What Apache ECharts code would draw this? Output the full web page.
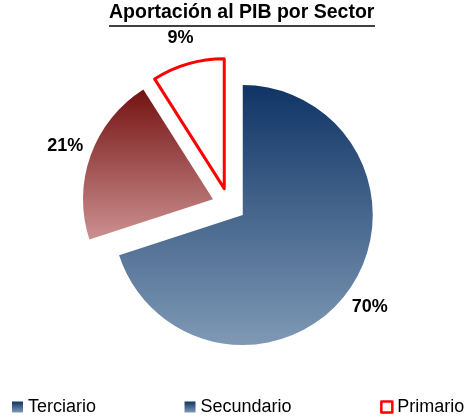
<!DOCTYPE html>
<html>
<head>
<meta charset="utf-8">
<script src="https://cdn.jsdelivr.net/npm/echarts@6/dist/echarts.min.js"></script>
<style>
html, body { margin: 0; padding: 0; background: #fff; }
#chart { width: 465px; height: 419px; }
</style>
</head>
<body>
<div id="chart"></div>
<script>
var sectores = ['Terciario', 'Secundario', 'Primario'];
var aportacion = [70, 21, 9];

var azul = new echarts.graphic.LinearGradient(0, 0, 0, 1, [
	{ offset: 0, color: '#0f3465' },
	{ offset: 1, color: '#7f99b5' }
]);
var rojo = new echarts.graphic.LinearGradient(0, 0, 0, 1, [
	{ offset: 0, color: '#741212' },
	{ offset: 1, color: '#cc9090' }
]);
var estilos = [
	{ color: azul },
	{ color: rojo },
	{ color: '#ffffff', borderColor: '#ff0000', borderWidth: 3 }
];

var datos = [];
var etiquetas = [];
for (var i = 0; i < sectores.length; i++) {
	datos.push({ name: sectores[i], value: aportacion[i], selected: true, itemStyle: estilos[i] });
	etiquetas.push({ name: sectores[i], value: aportacion[i], selected: true });
}

var myChart = echarts.init(document.getElementById('chart'));
var option = {
	animation: false,
	title: {
		text: 'Aportación al PIB por Sector',
		left: 109,
		top: 3,
		padding: 0,
		textStyle: { fontFamily: 'Liberation Sans', fontSize: 19.5, fontWeight: 'bold', color: '#000' }
	},
	graphic: [{
		type: 'line',
		shape: { x1: 109, y1: 26, x2: 375, y2: 26 },
		style: { stroke: '#000', lineWidth: 1.5 }
	}],
	legend: {
		left: 12,
		top: 398,
		width: 600,
		padding: 0,
		itemWidth: 11,
		itemHeight: 11,
		itemGap: 88.5,
		textStyle: { fontFamily: 'Liberation Sans', fontSize: 18, color: '#000' },
		data: [
			{ name: 'Terciario', icon: 'rect', itemStyle: { color: azul } },
			{ name: 'Secundario', icon: 'rect', itemStyle: { color: azul } },
			{ name: 'Primario', icon: 'rect', itemStyle: { color: '#fff', borderColor: '#ff0000', borderWidth: 2.5 } }
		]
	},
	series: [{
		name: 'Aportación',
		type: 'pie',
		center: [229, 205],
		radius: 130,
		startAngle: 90,
		clockwise: true,
		selectedMode: 'multiple',
		selectedOffset: 17,
		silent: true,
		label: { show: false },
		labelLine: { show: false },
		data: datos
	}, {
		name: 'Etiquetas',
		type: 'pie',
		center: [229, 205],
		radius: [138, 170],
		startAngle: 90,
		clockwise: true,
		selectedMode: 'multiple',
		selectedOffset: 17,
		silent: true,
		itemStyle: { color: 'rgba(0,0,0,0)' },
		label: {
			show: true,
			position: 'inside',
			formatter: '{d}%',
			fontFamily: 'Liberation Sans',
			fontSize: 18,
			fontWeight: 'bold',
			color: '#000'
		},
		labelLine: { show: false },
		data: etiquetas
	}]
};
myChart.setOption(option);
</script>
</body>
</html>
